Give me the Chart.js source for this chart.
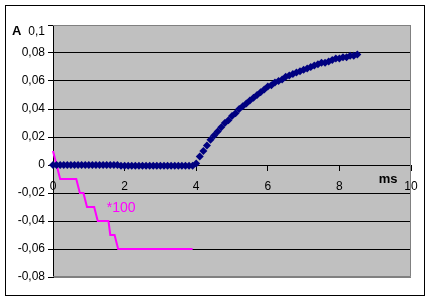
<!DOCTYPE html>
<html>
<head>
<meta charset="utf-8">
<script src="https://cdn.jsdelivr.net/npm/chart.js@4.4.0/dist/chart.umd.min.js"></script>
<style>
    body { margin: 0; background: #fff; }
    canvas { display: block; }
</style>
</head>
<body>
<canvas id="chart" width="428" height="304"></canvas>
<script>
// measured trace (ms, A)
const timeMs = [
    0.0, 0.1, 0.2, 0.3, 0.4, 0.5, 0.6, 0.7, 0.8, 0.9,
    1.0, 1.1, 1.2, 1.3, 1.4, 1.5, 1.6, 1.7, 1.8, 1.9,
    2.0, 2.1, 2.2, 2.3, 2.4, 2.5, 2.6, 2.7, 2.8, 2.9,
    3.0, 3.1, 3.2, 3.3, 3.4, 3.5, 3.6, 3.7, 3.8, 3.9,
    4.0, 4.1, 4.2, 4.3, 4.4, 4.5, 4.6, 4.7, 4.8, 4.9,
    5.0, 5.1, 5.2, 5.3, 5.4, 5.5, 5.6, 5.7, 5.8, 5.9,
    6.0, 6.1, 6.2, 6.3, 6.4, 6.5, 6.6, 6.7, 6.8, 6.9,
    7.0, 7.1, 7.2, 7.3, 7.4, 7.5, 7.6, 7.7, 7.8, 7.9,
    8.0, 8.1, 8.2, 8.3, 8.4, 8.5
];
const absorbance = [
    0, 0, 0, 0, 0, 0, 0, 0, 0, 0,
    0, 0, 0, 0, 0, 0, 0, 0, 0, -0.0006,
    -0.0006, -0.0006, -0.0006, -0.0006, -0.0006, -0.0006, -0.0006, -0.0006, -0.0006, -0.0006,
    -0.0006, -0.0006, -0.0006, -0.0006, -0.0006, -0.0006, -0.0006, -0.0006, -0.0006, -0.0006,
    0.001, 0.006, 0.010, 0.014, 0.018, 0.021, 0.024, 0.027, 0.030, 0.032,
    0.035, 0.037, 0.040, 0.042, 0.044, 0.046, 0.048, 0.050, 0.052, 0.054,
    0.056, 0.057, 0.059, 0.060, 0.061, 0.063, 0.064, 0.065, 0.066, 0.067,
    0.068, 0.069, 0.070, 0.071, 0.072, 0.073, 0.073, 0.074, 0.075, 0.076,
    0.076, 0.077, 0.077, 0.078, 0.078, 0.079
];

// second trace, scaled *100
const stepTime = [0, 0.2, 0.65, 0.75, 0.85, 0.95, 1.15, 1.25, 1.55, 1.6, 1.72, 1.82, 3.9];
const stepValue = [0.01, -0.01, -0.01, -0.02, -0.02, -0.03, -0.03, -0.04, -0.04, -0.05, -0.05, -0.06, -0.06];

const xTicks = [0, 10, 2];          // min, max, step
const yTicks = [-0.08, 0.1, 0.02];  // min, max, step

const FONT = '"Liberation Sans", Arial, sans-serif';

function fmt(v) {
    return String(Number(v.toFixed(2))).replace('.', ',');
}

const frame = {
    id: 'frame',
    beforeDraw(chart) {
        const { ctx, chartArea: a } = chart;
        ctx.save();
        ctx.fillStyle = '#fff';
        ctx.fillRect(0, 0, chart.width, chart.height);
        ctx.fillStyle = '#c0c0c0';
        ctx.fillRect(a.left, a.top, a.right - a.left, a.bottom - a.top);
        ctx.restore();
    },
    beforeDatasetsDraw(chart) {
        const { ctx, chartArea: a } = chart;
        ctx.save();
        ctx.strokeStyle = '#808080';
        ctx.lineWidth = 1;
        ctx.beginPath();
        ctx.moveTo(a.left, a.top + 0.5);
        ctx.lineTo(a.right - 0.5, a.top + 0.5);
        ctx.lineTo(a.right - 0.5, a.bottom - 0.5);
        ctx.lineTo(a.left, a.bottom - 0.5);
        ctx.stroke();
        ctx.restore();
    },
    afterDraw(chart) {
        const { ctx } = chart;
        const x = chart.scales.x, y = chart.scales.y;
        ctx.save();
        ctx.strokeStyle = '#000';
        ctx.lineWidth = 1;
        ctx.strokeRect(5.5, 5.5, 419, 290);

        // top tick label sits a little low in the original
        ctx.fillStyle = '#000';
        ctx.font = '12px ' + FONT;
        ctx.textAlign = 'right';
        ctx.textBaseline = 'middle';
        ctx.fillText(fmt(yTicks[1]), x.left - 8, y.getPixelForValue(yTicks[1]) + 7);

        ctx.font = 'bold 13px ' + FONT;
        ctx.textAlign = 'left';
        ctx.fillText('A', 12, 31);
        ctx.fillText('ms', x.getPixelForValue(9.1), y.getPixelForValue(-0.0105));

        ctx.fillStyle = '#ff00ff';
        ctx.font = '14px ' + FONT;
        ctx.fillText('*100', x.getPixelForValue(1.5), y.getPixelForValue(-0.031));
        ctx.restore();
    }
};

new Chart(document.getElementById('chart'), {
    type: 'scatter',
    data: {
        datasets: [
            {
                label: 'A',
                data: timeMs.map((t, i) => ({ x: t, y: absorbance[i] })),
                showLine: false,
                pointStyle: 'rectRot',
                pointRadius: 4,
                pointBorderWidth: 0,
                backgroundColor: '#000080',
                borderColor: '#000080',
                clip: false,
                order: 1
            },
            {
                label: '*100',
                data: stepTime.map((t, i) => ({ x: t, y: stepValue[i] })),
                showLine: true,
                borderColor: '#ff00ff',
                borderWidth: 2,
                pointRadius: 0,
                tension: 0,
                clip: false,
                order: 2
            }
        ]
    },
    options: {
        responsive: false,
        animation: false,
        devicePixelRatio: 1,
        layout: { padding: { left: 0, top: 25, right: 17, bottom: 27 } },
        plugins: {
            legend: { display: false },
            tooltip: { enabled: false }
        },
        scales: {
            x: {
                type: 'linear',
                position: { y: 0 },
                min: xTicks[0],
                max: xTicks[1],
                ticks: {
                    stepSize: xTicks[2],
                    color: '#000',
                    padding: 9,
                    maxRotation: 0,
                    font: { family: FONT, size: 12 }
                },
                grid: {
                    drawOnChartArea: false,
                    drawTicks: true,
                    tickLength: 5,
                    color: '#000'
                },
                border: { display: true, color: '#000', width: 1 }
            },
            y: {
                type: 'linear',
                min: yTicks[0],
                max: yTicks[1],
                afterFit(scale) { scale.width = 53; },
                ticks: {
                    stepSize: yTicks[2],
                    color: '#000',
                    padding: 3,
                    font: { family: FONT, size: 12 },
                    callback: (v, i, all) => i === all.length - 1 ? '' : fmt(v)
                },
                grid: {
                    color: c => (c.index === 0 || c.index === 9) ? '#808080' : '#000',
                    tickColor: '#000',
                    tickLength: 5,
                    lineWidth: 1
                },
                border: { display: true, color: '#000', width: 1 }
            }
        }
    },
    plugins: [frame]
});
</script>
</body>
</html>
